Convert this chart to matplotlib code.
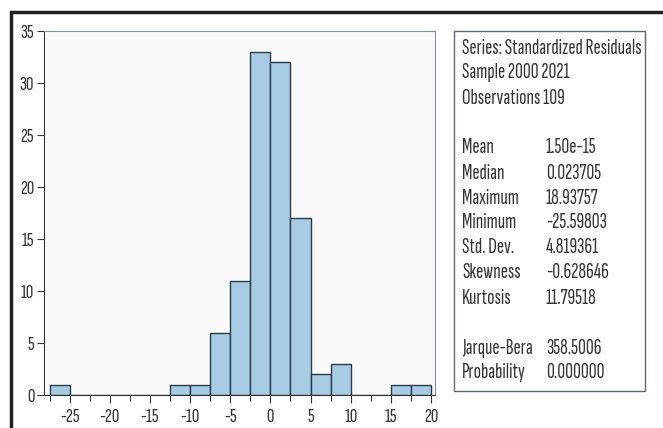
import matplotlib
matplotlib.use("Agg")
import matplotlib.pyplot as plt
from matplotlib.patches import Rectangle
from matplotlib.ticker import MultipleLocator

# histogram bins (width 2.5) and counts
bin_edges = [-27.5, -25, -22.5, -20, -17.5, -15, -12.5, -10, -7.5, -5, -2.5,
             0, 2.5, 5, 7.5, 10, 12.5, 15, 17.5, 20]
counts = [1, 0, 0, 0, 0, 0, 1, 1, 6, 11, 33, 32, 17, 2, 3, 0, 0, 1, 1]

header_lines = ["Series: Standardized Residuals", "Sample 2000 2021", "Observations 109"]
stat_names = ["Mean", "Median", "Maximum", "Minimum", "Std. Dev.", "Skewness", "Kurtosis"]
stat_values = ["1.50e-15", "0.023705", "18.93757", "-25.59803", "4.819361", "-0.628646", "11.79518"]
test_names = ["Jarque-Bera", "Probability"]
test_values = ["358.5006", "0.000000"]

plt.rcParams["font.family"] = ["Sofia Sans Extra Condensed", "Roboto Condensed",
                               "Liberation Sans", "DejaVu Sans"]
plt.rcParams["axes.unicode_minus"] = False

W, H = 663, 428
fig = plt.figure(figsize=(W / 100, H / 100), dpi=100)
fig.patch.set_facecolor("white")

# outer dark frame (cut off at right and bottom)
fig.add_artist(Rectangle((11 / W, -0.05), 1.1, 1.05 - 12 / H, transform=fig.transFigure,
                         fill=False, edgecolor="#222222", linewidth=2.5))

ax = fig.add_axes([44 / W, 1 - 395 / H, (435 - 44) / W, (395 - 31) / H])
ax.set_facecolor("#f9f9f9")
lefts = bin_edges[:-1]
widths = [b - a for a, b in zip(bin_edges[:-1], bin_edges[1:])]
ax.bar(lefts, counts, width=widths, align="edge", color="#a6cbe3",
       edgecolor="#2b3a48", linewidth=1.0)

ax.set_xlim(-28.2, 20.5)
ax.set_ylim(0, 35)
ax.xaxis.set_major_locator(MultipleLocator(5))
ax.xaxis.set_minor_locator(MultipleLocator(2.5))
ax.yaxis.set_major_locator(MultipleLocator(5))
for s in ax.spines.values():
    s.set_color("#8090a0")
    s.set_linewidth(0.8)
ax.spines["bottom"].set_color("#333333")
ax.spines["left"].set_color("#333333")
ax.tick_params(axis="both", direction="out", labelsize=15, colors="#333333",
               labelcolor="#333333")
ax.tick_params(axis="x", which="major", length=6, pad=3)
ax.tick_params(axis="x", which="minor", length=4)
ax.tick_params(axis="y", length=5, pad=2)

# statistics box
bx0, by0, bx1, by1 = 454, 31, 645, 391
fig.add_artist(Rectangle((bx0 / W, 1 - by1 / H), (bx1 - bx0) / W, (by1 - by0) / H,
                         transform=fig.transFigure, facecolor="white",
                         edgecolor="#5a6670", linewidth=1.0))

tx, vx = 462, 546
fs = 15.5
y = 48
for line in header_lines:
    fig.text(tx / W, 1 - y / H, line, fontsize=fs, va="center", color="#333333")
    y += 25
y += 25
for name, val in zip(stat_names, stat_values):
    fig.text(tx / W, 1 - y / H, name, fontsize=fs, va="center", color="#333333")
    fig.text(vx / W, 1 - y / H, val, fontsize=fs, va="center", color="#333333")
    y += 25
y += 25
for name, val in zip(test_names, test_values):
    fig.text(tx / W, 1 - y / H, name, fontsize=fs, va="center", color="#333333")
    fig.text(vx / W, 1 - y / H, val, fontsize=fs, va="center", color="#333333")
    y += 25

fig.savefig("out.png", dpi=100)
